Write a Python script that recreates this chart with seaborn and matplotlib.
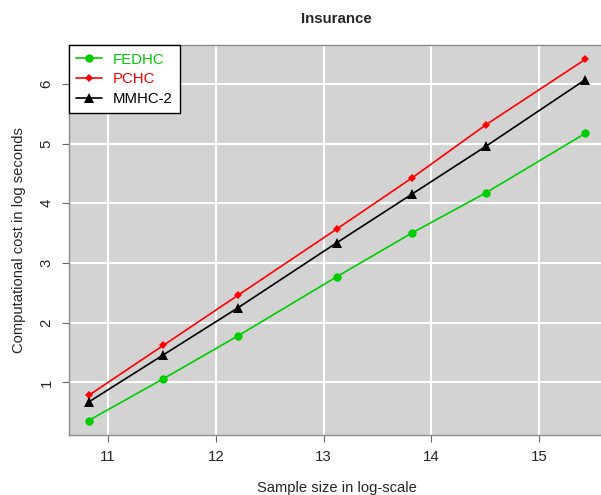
import numpy as np
import pandas as pd
import matplotlib
matplotlib.use("Agg")
import matplotlib.pyplot as plt
import seaborn as sns
from matplotlib.lines import Line2D

sample_sizes = [50000, 100000, 200000, 500000, 1000000, 2000000, 5000000]
methods = ["FEDHC", "PCHC", "MMHC-2"]
fedhc = [0.36, 1.06, 1.78, 2.77, 3.50, 4.18, 5.17]
pchc = [0.78, 1.62, 2.46, 3.57, 4.42, 5.32, 6.41]
mmhc2 = [0.67, 1.46, 2.25, 3.34, 4.15, 4.96, 6.07]
x_ticks = [11, 12, 13, 14, 15]
y_ticks = [1, 2, 3, 4, 5, 6]

logn = np.log(sample_sizes)
df = pd.DataFrame({
    "x": np.concatenate([logn, logn, logn]),
    "y": fedhc + pchc + mmhc2,
    "method": sum([[m] * len(logn) for m in methods], []),
})

sns.set_style("white")
plt.rcParams["font.family"] = ["Liberation Sans", "DejaVu Sans"]

colors = {"FEDHC": "#00CD00", "PCHC": "#FF0000", "MMHC-2": "#000000"}
markers = {"FEDHC": "o", "PCHC": "D", "MMHC-2": "^"}
sizes = {"FEDHC": 6, "PCHC": 4, "MMHC-2": 6.8}

fig = plt.figure(figsize=(6.01, 4.95), dpi=100)
ax = fig.add_axes([68.7 / 601, 1 - 435 / 495, (605 - 68.7) / 601, (435 - 45) / 495])
ax.set_facecolor("#D3D3D3")

sns.lineplot(data=df, x="x", y="y", hue="method", style="method",
             palette=colors, markers=markers, dashes=False,
             linewidth=1.2, ax=ax, legend=False, markeredgewidth=0, sort=False)
for line, m in zip(ax.lines, methods):
    line.set_markersize(sizes[m])

xr = logn.max() - logn.min()
ax.set_xlim(logn.min() - 0.04 * xr, logn.max() + 0.04 * xr)
allv = np.array(fedhc + pchc + mmhc2)
yr = allv.max() - allv.min()
ax.set_ylim(allv.min() - 0.04 * yr, allv.max() + 0.04 * yr)

ax.set_xticks(x_ticks)
ax.set_yticks(y_ticks)
ax.grid(True, color="white", linewidth=1.5)
ax.set_axisbelow(True)
for s in ax.spines.values():
    s.set_color("#8C8C8C")
    s.set_linewidth(1.0)
ax.tick_params(axis="both", direction="out", length=5, width=0.8, color="#666666",
               labelsize=10.8, pad=6, left=True, bottom=True)
ax.tick_params(axis="y", labelrotation=90)
for lab in ax.get_yticklabels():
    lab.set_va("center")

ax.set_xlabel("Sample size in log-scale", fontsize=10.6, labelpad=12)
ax.set_ylabel("Computational cost in log seconds", fontsize=10.6, labelpad=10)
ax.set_title("Insurance", fontsize=10.8, fontweight="bold", pad=16)

handles = [Line2D([0], [0], color=colors[m], marker=markers[m], markersize=sizes[m],
                  markeredgewidth=0, linewidth=1.2) for m in methods]
leg = ax.legend(handles, methods, loc="upper left", bbox_to_anchor=(0, 1),
                borderaxespad=0, fontsize=10.8, frameon=True, fancybox=False,
                handlelength=1.7, handletextpad=0.75, labelspacing=0.38,
                borderpad=0.5)
leg.get_frame().set_edgecolor("black")
leg.get_frame().set_facecolor("white")
leg.get_frame().set_alpha(1)
leg.get_frame().set_linewidth(1.0)
for t, m in zip(leg.get_texts(), methods):
    t.set_color(colors[m])

fig.savefig("out.png", dpi=100)
